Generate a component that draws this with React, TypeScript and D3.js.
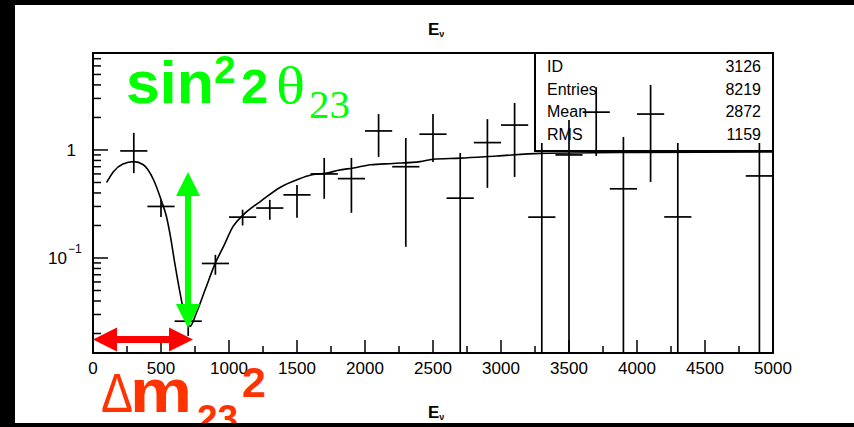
import React from 'react';
import * as d3 from 'd3';

// bin centres (E, 200 wide bins) and the measured ratio with its error bar ends
const binCenters = [300, 500, 700, 900, 1100, 1300, 1500, 1700, 1900, 2100, 2300, 2500, 2700, 2900, 3100, 3300, 3500, 3700, 3900, 4100, 4300, 4900];
const ratio = [0.98, 0.3, 0.026, 0.089, 0.239, 0.29, 0.384, 0.6, 0.543, 1.5, 0.7, 1.4, 0.358, 1.17, 1.7, 0.239, 0.9, 2.24, 0.437, 2.15, 0.24, 0.575];
const errHigh = [1.44, 0.345, 0.031, 0.107, 0.28, 0.345, 0.475, 0.844, 0.844, 2.15, 1.29, 2.15, 0.938, 1.93, 2.72, 1.16, 1.89, 3.8, 1.32, 4.0, 1.16, 1.16];
const errLow = [0.61, 0.24, 0.019, 0.07, 0.2, 0.226, 0.236, 0.353, 0.262, 0.862, 0.127, 0.775, 0, 0.446, 0.563, 0, 0, 0.88, 0, 0.506, 0, 0];

// fitted oscillation curve
const fitE = [100, 150, 220, 300, 370, 445, 505, 540, 565, 605, 640, 675, 713, 760, 825, 900, 960, 1030, 1105, 1180, 1230, 1375, 1500, 1610, 1720, 1805, 1915, 2040, 2205, 2405, 2500, 2700, 2970, 3290, 4000, 5000];
const fitRatio = [0.5, 0.63, 0.74, 0.78, 0.73, 0.53, 0.333, 0.242, 0.17, 0.084, 0.0475, 0.029, 0.0233, 0.031, 0.051, 0.09, 0.128, 0.196, 0.251, 0.3, 0.333, 0.45, 0.53, 0.59, 0.61, 0.65, 0.68, 0.73, 0.75, 0.78, 0.82, 0.84, 0.88, 0.93, 0.95, 0.96];

const xTickLabels = [0, 500, 1000, 1500, 2000, 2500, 3000, 3500, 4000, 4500, 5000];
const statLabels = ['ID', 'Entries', 'Mean', 'RMS'];
const statValues = ['3126', '8219', '2872', '1159'];

const W = 854;
const H = 427;
const left = 93, right = 773, top = 53, bottom = 353;
const binHalf = 100;

const App: React.FC = () => {
  const x = d3.scaleLinear().domain([0, 5000]).range([left, right]);
  const y = d3.scaleLog().domain([0.0132, 7.9]).range([bottom, top]);
  const yc = (v: number) => (v <= 0 ? bottom + 5 : y(v));

  const fitLine = d3
    .line<number>()
    .x((_, i) => x(fitE[i]))
    .y((d) => y(d))
    .curve(d3.curveMonotoneX);

  const minorY: number[] = [];
  [0.01, 0.1, 1].forEach((dec) => {
    for (let k = 2; k <= 9; k++) {
      const v = dec * k;
      if (v > 0.0132 && v < 7.9) minorY.push(v);
    }
  });
  const xMinor = d3.range(250, 5000, 500);
  const xMajor = d3.range(500, 5000, 500);

  const sansFont = '"Liberation Sans", Arial, sans-serif';
  const serifFont = '"Liberation Serif", "Times New Roman", serif';
  const green = '#00ff00';
  const red = '#ff0000';
  const orange = '#ff3300';

  return (
    <svg width={W} height={H} style={{ position: 'absolute', left: 0, top: 0 }}>
      <defs>
        <clipPath id="frame">
          <rect x={left} y={top} width={right - left} height={bottom - top} />
        </clipPath>
      </defs>
      <rect width={W} height={H} fill="#000" />
      <rect x={15} y={5} width={W - 15} height={418} fill="#fff" />

      {/* title */}
      <text x={428} y={35} fontFamily={sansFont} fontWeight="bold" fontSize={17} fill="#000">
        E
        <tspan fontSize={9} dy={2}>ν</tspan>
      </text>

      {/* axis ticks */}
      {xMajor.map((t) => (
        <line key={'xM' + t} x1={x(t)} x2={x(t)} y1={bottom} y2={bottom - 13} stroke="#000" strokeWidth={1.5} />
      ))}
      {xMinor.map((t) => (
        <line key={'xm' + t} x1={x(t)} x2={x(t)} y1={bottom} y2={bottom - 7} stroke="#000" strokeWidth={1.5} />
      ))}
      {[0.1, 1].map((t) => (
        <line key={'yM' + t} x1={left} x2={left + 15} y1={y(t)} y2={y(t)} stroke="#000" strokeWidth={1.5} />
      ))}
      {minorY.map((t) => (
        <line key={'ym' + t} x1={left} x2={left + 8} y1={y(t)} y2={y(t)} stroke="#000" strokeWidth={1.5} />
      ))}

      {/* tick labels */}
      {xTickLabels.map((t) => (
        <text key={'xl' + t} x={x(t)} y={374} textAnchor="middle" fontFamily={sansFont} fontSize={17} fill="#000">
          {t}
        </text>
      ))}
      <text x={76} y={156} textAnchor="end" fontFamily={sansFont} fontSize={17} fill="#000">1</text>
      <text x={67} y={264} textAnchor="end" fontFamily={sansFont} fontSize={17} fill="#000">10</text>
      <text x={68} y={253} fontFamily={sansFont} fontSize={12} fill="#000">−1</text>

      {/* stats box */}
      <rect x={535} y={top} width={right - 535} height={98} fill="#fff" stroke="#000" strokeWidth={2} />
      {statLabels.map((s, i) => (
        <text key={s} x={547} y={72 + i * 22.5} fontFamily={sansFont} fontSize={16} fill="#000">{s}</text>
      ))}
      {statValues.map((s, i) => (
        <text key={'v' + i} x={761} y={72 + i * 22.5} textAnchor="end" fontFamily={sansFont} fontSize={16} fill="#000">{s}</text>
      ))}

      <g clipPath="url(#frame)">
        <path d={fitLine(fitRatio) || ''} fill="none" stroke="#000" strokeWidth={1.6} />
        {binCenters.map((e, i) => (
          <g key={'p' + e} stroke="#000" strokeWidth={1.7}>
            <line x1={x(e)} x2={x(e)} y1={yc(errHigh[i])} y2={yc(errLow[i])} />
            <line x1={x(e - binHalf)} x2={x(e + binHalf)} y1={y(ratio[i])} y2={y(ratio[i])} />
          </g>
        ))}
      </g>

      {/* frame */}
      <rect x={left} y={top} width={right - left} height={bottom - top} fill="none" stroke="#000" strokeWidth={2} />

      {/* x axis title */}
      <text x={428} y={418} fontFamily={sansFont} fontWeight="bold" fontSize={17} fill="#000">
        E
        <tspan fontSize={9} dy={2}>ν</tspan>
      </text>

      {/* green annotation */}
      <g fill={green}>
        <rect x={185} y={190} width={6} height={120} />
        <polygon points="188,172 176,196 200,196" />
        <polygon points="188,328 176,304 200,304" />
      </g>
      <text x={126} y={103} fontFamily={sansFont} fontWeight="bold" fontSize={60} fill={green} textLength={88} lengthAdjust="spacingAndGlyphs">sin</text>
      <text x={214} y={83} fontFamily={sansFont} fontWeight="bold" fontSize={39} fill={green}>2</text>
      <text x={241} y={103} fontFamily={sansFont} fontWeight="bold" fontSize={49} fill={green}>2</text>
      <text x={276} y={103} fontFamily={serifFont} fontSize={52} fill={green} textLength={29} lengthAdjust="spacingAndGlyphs">θ</text>
      <text x={309} y={118} fontFamily={serifFont} fontSize={41} fill={green}>23</text>

      {/* red annotation */}
      <g fill={red}>
        <rect x={112} y={336} width={62} height={7} />
        <polygon points="93,339.5 117,327.5 117,351.5" />
        <polygon points="193,339.5 169,327.5 169,351.5" />
      </g>
      <text x={101} y={412} fontFamily={sansFont} fontSize={56} fill={orange} textLength={32} lengthAdjust="spacingAndGlyphs">Δ</text>
      <text x={130} y={412} fontFamily={sansFont} fontWeight="bold" fontSize={62} fill={orange} textLength={62} lengthAdjust="spacingAndGlyphs">m</text>
      <text x={197} y={431} fontFamily={sansFont} fontWeight="bold" fontSize={37} fill={orange}>23</text>
      <text x={242} y={397} fontFamily={sansFont} fontWeight="bold" fontSize={43} fill={orange}>2</text>

      {/* bottom black strip drawn last so descending text is cut like the original */}
      <rect x={0} y={423} width={W} height={H - 423} fill="#000" />
    </svg>
  );
};

export default App;
